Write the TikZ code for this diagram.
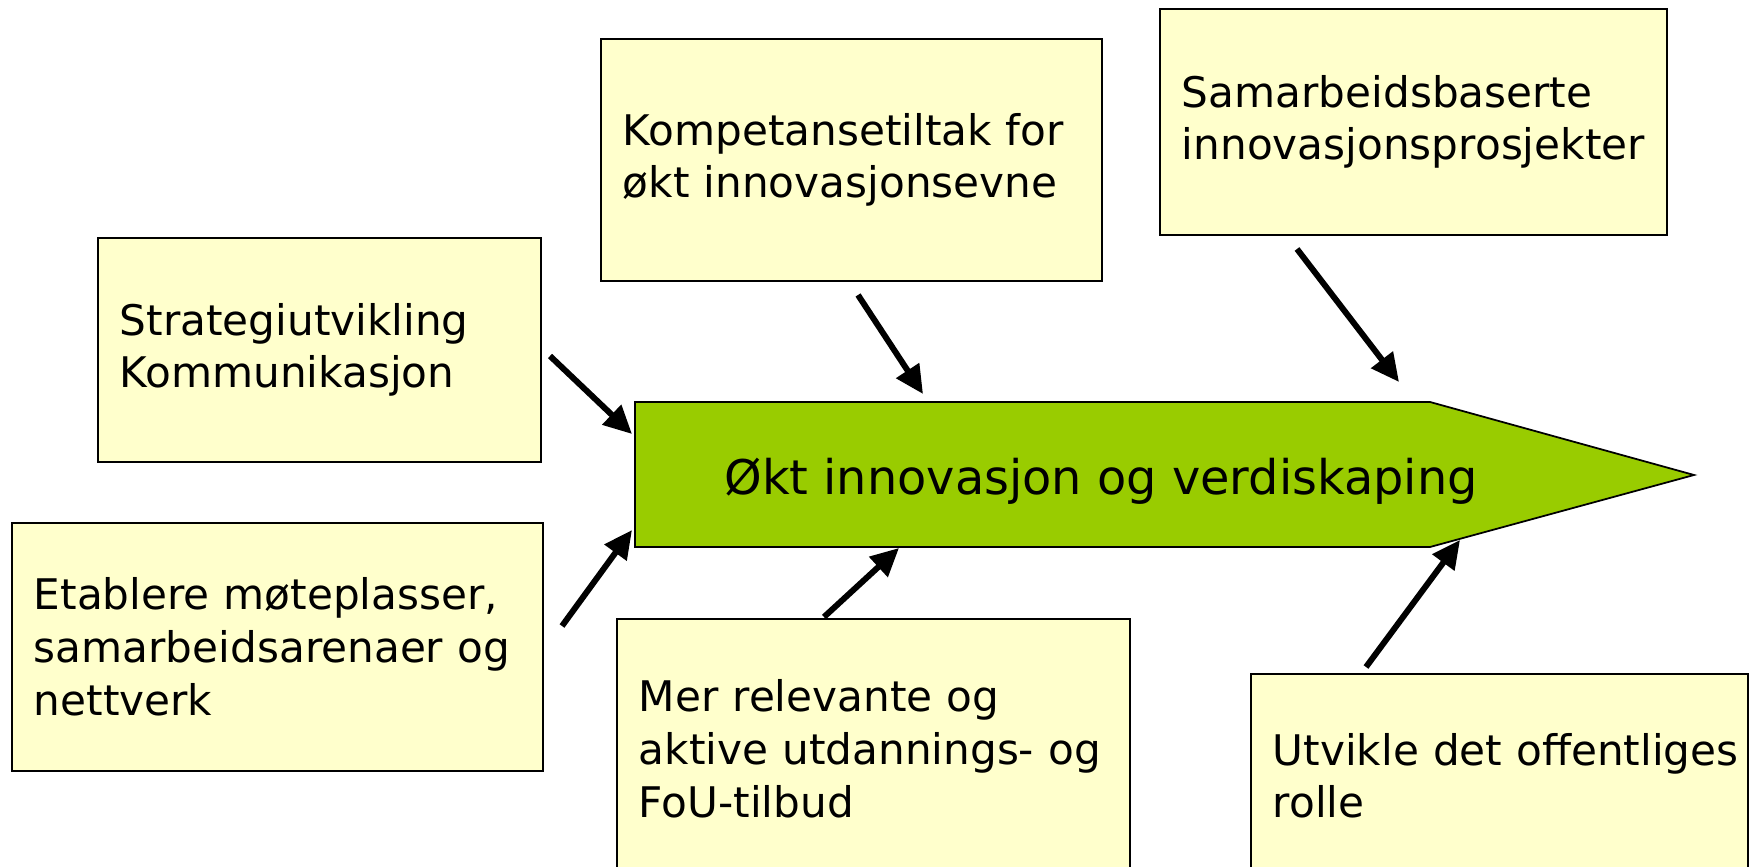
\documentclass[tikz,border=0pt]{standalone}
\usepackage{fontspec}
\setmainfont{DejaVu Sans}
\usetikzlibrary{arrows.meta}
\definecolor{boxyellow}{HTML}{FFFFCC}
\definecolor{goalgreen}{HTML}{99CC00}

\begin{document}
\begin{tikzpicture}[
  idea/.style={draw=black, line width=0.5pt, fill=boxyellow, anchor=north west,
    inner xsep=0.22cm, inner ysep=0pt, align=left,
    font=\fontsize{12}{15}\selectfont},
  push/.style={-{Triangle[length=8pt,width=7.5pt]}, line width=1.7pt}
]
\useasboundingbox (0,0) rectangle (17.53,8.66);
\clip (0,0) rectangle (17.53,8.66);

% the goal arrow
\draw[fill=goalgreen, line width=0.5pt] (6.35,4.64) -- (14.30,4.64) -- (16.94,3.91) -- (14.30,3.19) -- (6.35,3.19) -- cycle;
\node[font=\fontsize{13.6}{16}\selectfont] (goal) at (11.01,3.85) {Økt innovasjon og verdiskaping};

% the boxes
\node[idea, text width=3.99cm, minimum height=2.24cm] (strat) at (0.97,6.29) {Strategiutvikling\\Kommunikasjon};
\node[idea, text width=4.87cm, minimum height=2.48cm] (etab) at (0.11,3.44) {Etablere møteplasser,\\samarbeidsarenaer og\\nettverk};
\node[idea, text width=4.57cm, minimum height=2.42cm] (komp) at (6.00,8.28) {Kompetansetiltak for\\økt innovasjonsevne};
\node[idea, text width=4.63cm, minimum height=2.26cm] (samar) at (11.59,8.58) {Samarbeidsbaserte\\innovasjonsprosjekter};
\node[idea, text width=4.69cm, minimum height=2.60cm] (mer) at (6.16,2.48) {Mer relevante og\\aktive utdannings- og\\FoU-tilbud};
\node[idea, text width=4.53cm, minimum height=2.04cm] (utv) at (12.50,1.93) {\mbox{Utvikle det offentliges}\\rolle};

% arrow ends
\coordinate (strat-out) at (5.50,5.10);
\coordinate (goal-a) at (6.32,4.32);
\coordinate (etab-out) at (5.62,2.40);
\coordinate (goal-b) at (6.32,3.36);
\coordinate (komp-out) at (8.58,5.71);
\coordinate (goal-c) at (9.23,4.72);
\coordinate (samar-out) at (12.97,6.17);
\coordinate (goal-d) at (13.99,4.84);
\coordinate (mer-out) at (8.24,2.49);
\coordinate (goal-e) at (8.99,3.18);
\coordinate (utv-out) at (13.66,1.99);
\coordinate (goal-f) at (14.60,3.26);

\draw[push] (strat-out) -- (goal-a);
\draw[push] (etab-out) -- (goal-b);
\draw[push] (komp-out) -- (goal-c);
\draw[push] (samar-out) -- (goal-d);
\draw[push] (mer-out) -- (goal-e);
\draw[push] (utv-out) -- (goal-f);
\end{tikzpicture}
\end{document}
